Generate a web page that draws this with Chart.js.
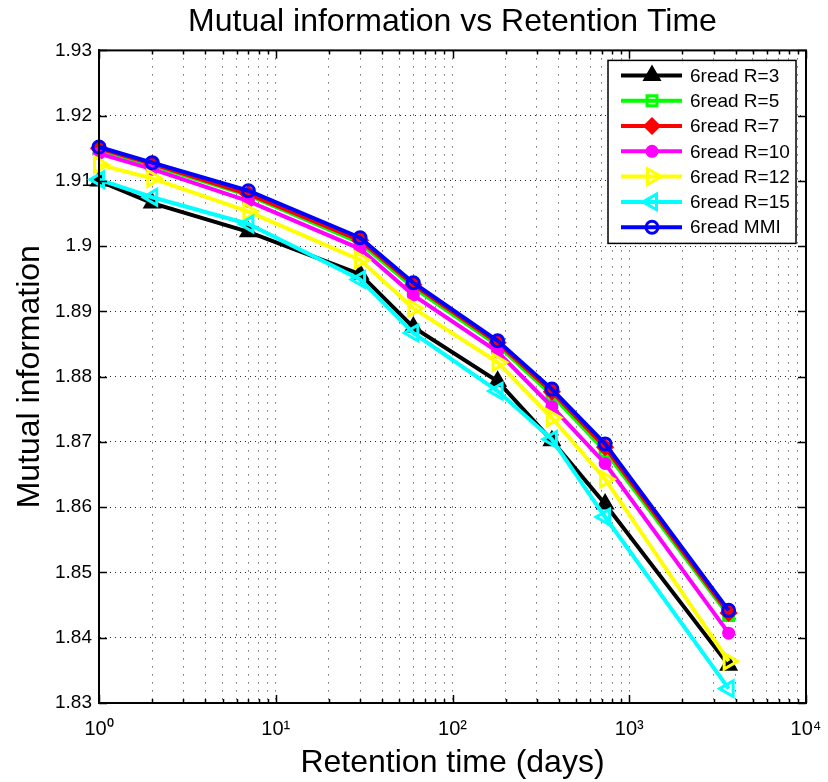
<!DOCTYPE html>
<html>
<head>
<meta charset="utf-8">
<script src="https://cdn.jsdelivr.net/npm/chart.js"></script>
<style>
    body { margin: 0; background: #fff; }
    #wrap { width: 828px; height: 782px; }
</style>
</head>
<body>
<div id="wrap"><canvas id="miChart" width="828" height="782"></canvas></div>
<script>
// retention time in days
const days = [1, 2, 7, 30, 60, 180, 365, 730, 3650];

const r3 = [1.9100, 1.9066, 1.9022, 1.8957, 1.8876, 1.8793, 1.8702, 1.8605, 1.8358];
const r5 = [1.9148, 1.9124, 1.9078, 1.9005, 1.8937, 1.8848, 1.8772, 1.8686, 1.8434];
const r7 = [1.9150, 1.9126, 1.9080, 1.9009, 1.8941, 1.8852, 1.8777, 1.8692, 1.8438];
const r10 = [1.9142, 1.9118, 1.9069, 1.8996, 1.8925, 1.8838, 1.8754, 1.8667, 1.8407];
const r12 = [1.9125, 1.9104, 1.9053, 1.8979, 1.8905, 1.8822, 1.8737, 1.8643, 1.8364];
const r15 = [1.9102, 1.9075, 1.9034, 1.8949, 1.8867, 1.8778, 1.8704, 1.8585, 1.8322];
const mmi = [1.9152, 1.9128, 1.9085, 1.9013, 1.8944, 1.8855, 1.8781, 1.8697, 1.8442];

const seriesNames = ["6read R=3", "6read R=5", "6read R=7", "6read R=10", "6read R=12", "6read R=15", "6read MMI"];

const yTicks = [1.83, 1.84, 1.85, 1.86, 1.87, 1.88, 1.89, 1.9, 1.91, 1.92, 1.93];
const xTicks = [];
for (let e = 0; e < 4; e++) {
    for (let m = 1; m < 10; m++) xTicks.push(m * Math.pow(10, e));
}
xTicks.push(10000);

const FONT = "'Liberation Sans', Arial, Helvetica, sans-serif";
const sup = ["\u2070", "\u00b9", "\u00b2", "\u00b3", "\u2074"];

const styles = [
    { color: "#000000", style: "triangle", rot: 0, r: 8, fill: true },
    { color: "#00ff00", style: "rect", rot: 0, r: 7, fill: false },
    { color: "#ff0000", style: "rectRot", rot: 0, r: 7, fill: true },
    { color: "#ff00ff", style: "circle", rot: 0, r: 5, fill: true },
    { color: "#ffff00", style: "triangle", rot: 90, r: 9, fill: false },
    { color: "#00ffff", style: "triangle", rot: -90, r: 9, fill: false },
    { color: "#0000ff", style: "circle", rot: 0, r: 6, fill: false }
];

const allSeries = [r3, r5, r7, r10, r12, r15, mmi];

const datasets = allSeries.map((vals, i) => {
    const s = styles[i];
    return {
        label: seriesNames[i],
        data: days.map((d, k) => ({ x: d, y: vals[k] })),
        borderColor: s.color,
        backgroundColor: s.color,
        borderWidth: 4,
        pointStyle: s.style,
        pointRotation: s.rot,
        pointRadius: s.r,
        pointBorderWidth: 3,
        pointBorderColor: s.color,
        pointBackgroundColor: s.fill ? s.color : "rgba(255,255,255,0)",
        tension: 0,
        clip: false,
        order: 6 - i
    };
});

function markerAt(ctx, s, x, y) {
    ctx.save();
    ctx.strokeStyle = s.color;
    ctx.fillStyle = s.fill ? s.color : "rgba(255,255,255,0)";
    ctx.lineWidth = 3;
    Chart.helpers.drawPoint(ctx, { pointStyle: s.style, rotation: s.rot, radius: s.r, borderWidth: 3 }, x, y);
    ctx.restore();
}

// MATLAB style box, inward tick marks and legend
const matlabFrame = {
    id: "matlabFrame",
    afterDraw(chart) {
        const ctx = chart.ctx;
        const a = chart.chartArea;
        const xs = chart.scales.x;
        const ys = chart.scales.y;
        ctx.save();
        ctx.strokeStyle = "#000";
        ctx.lineWidth = 1.5;
        xs.ticks.forEach(t => {
            const px = Math.round(xs.getPixelForValue(t.value)) + 0.5;
            const major = Math.abs(Math.log10(t.value) - Math.round(Math.log10(t.value))) < 1e-9;
            const len = major ? 8 : 4;
            ctx.beginPath();
            ctx.moveTo(px, a.bottom); ctx.lineTo(px, a.bottom - len);
            ctx.moveTo(px, a.top); ctx.lineTo(px, a.top + len);
            ctx.stroke();
        });
        ys.ticks.forEach(t => {
            const py = Math.round(ys.getPixelForValue(t.value)) + 0.5;
            ctx.beginPath();
            ctx.moveTo(a.left, py); ctx.lineTo(a.left + 8, py);
            ctx.moveTo(a.right, py); ctx.lineTo(a.right - 8, py);
            ctx.stroke();
        });
        ctx.lineWidth = 2;
        ctx.strokeRect(a.left, a.top, a.right - a.left, a.bottom - a.top);

        // legend
        const w = 188, h = 183, rowH = 25.3;
        const x0 = a.right - 10 - w, y0 = a.top + 10;
        ctx.fillStyle = "#fff";
        ctx.fillRect(x0, y0, w, h);
        ctx.lineWidth = 1.5;
        ctx.strokeRect(x0, y0, w, h);
        ctx.font = "19px " + FONT;
        ctx.textBaseline = "middle";
        seriesNames.forEach((name, i) => {
            const s = styles[i];
            const y = y0 + 15 + i * rowH;
            ctx.strokeStyle = s.color;
            ctx.lineWidth = 4;
            ctx.beginPath();
            ctx.moveTo(x0 + 13, y); ctx.lineTo(x0 + 74, y);
            ctx.stroke();
            markerAt(ctx, s, x0 + 44, y);
            ctx.fillStyle = "#000";
            ctx.fillText(name, x0 + 82, y + 1);
        });
        ctx.restore();
    }
};

new Chart(document.getElementById("miChart"), {
    type: "line",
    data: { datasets: datasets },
    options: {
        responsive: false,
        animation: false,
        layout: { padding: { left: 0, right: 22, top: 0, bottom: 0 } },
        plugins: {
            legend: { display: false },
            tooltip: { enabled: false },
            title: {
                display: true,
                fullSize: false,
                text: "Mutual information vs Retention Time",
                color: "#000",
                font: { family: FONT, size: 32, weight: "normal" },
                padding: { top: 3, bottom: 9 }
            }
        },
        scales: {
            x: {
                type: "logarithmic",
                min: 1,
                max: 10000,
                afterBuildTicks: axis => {
                    axis.ticks = xTicks.map(v => ({ value: v }));
                },
                afterFit: scale => {
                    scale.height = 79;
                    scale.paddingLeft = 0;
                    scale.paddingRight = 0;
                },
                ticks: {
                    autoSkip: false,
                    maxRotation: 0,
                    padding: 14,
                    color: "#000",
                    font: { family: FONT, size: 20 },
                    callback: v => {
                        const e = Math.log10(v);
                        if (Math.abs(e - Math.round(e)) > 1e-9) return "";
                        return "10" + sup[Math.round(e)];
                    }
                },
                grid: { color: "rgba(0,0,0,0.85)", lineWidth: 1, drawTicks: false },
                border: { display: true, color: "#000", width: 2, dash: [1, 7] },
                title: {
                    display: true,
                    text: "Retention time (days)",
                    color: "#000",
                    font: { family: FONT, size: 32 },
                    padding: { top: 0, bottom: 0 }
                }
            },
            y: {
                min: 1.83,
                max: 1.93,
                afterBuildTicks: axis => {
                    axis.ticks = yTicks.map(v => ({ value: v }));
                },
                afterFit: scale => {
                    scale.width = 99;
                    scale.paddingTop = 0;
                    scale.paddingBottom = 0;
                },
                ticks: {
                    padding: 7,
                    color: "#000",
                    font: { family: FONT, size: 19 },
                    callback: v => String(Number(v.toFixed(2)))
                },
                grid: { color: "rgba(0,0,0,0.85)", lineWidth: 1, drawTicks: false },
                border: { display: true, color: "#000", width: 2, dash: [1, 4] },
                title: {
                    display: true,
                    text: "Mutual information",
                    color: "#000",
                    font: { family: FONT, size: 32 },
                    padding: { top: 11, bottom: 0 }
                }
            }
        }
    },
    plugins: [matlabFrame]
});
</script>
</body>
</html>
